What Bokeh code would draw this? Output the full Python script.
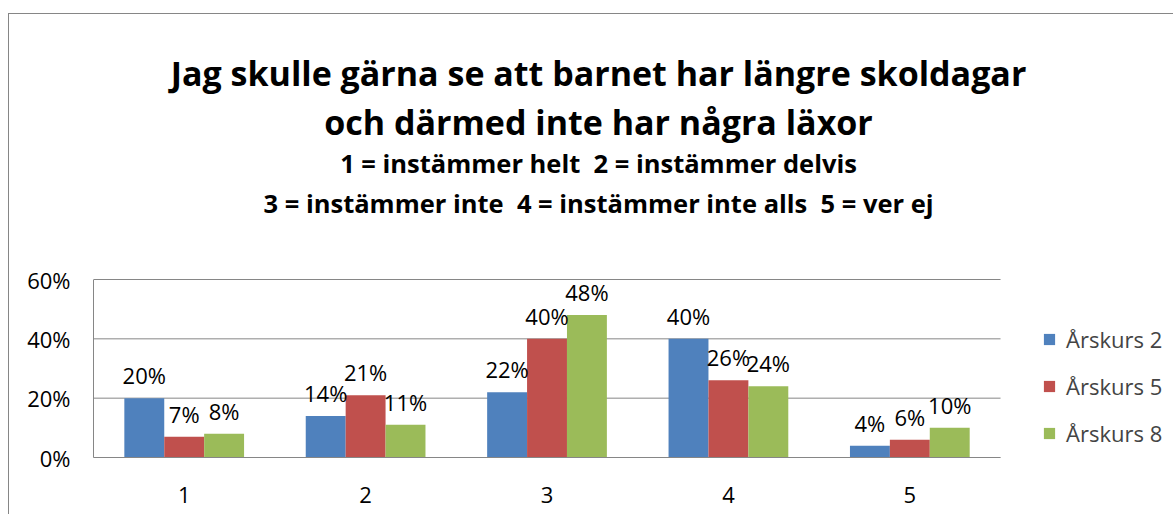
from bokeh.plotting import figure
from bokeh.models import (ColumnDataSource, Legend, LegendItem, Label, Range1d,
                          FixedTicker, NumeralTickFormatter, LabelSet)
from bokeh.transform import dodge
from bokeh.core.properties import value
from bokeh.embed import file_html
from bokeh.resources import INLINE

# ---- data ----
categories = ["1", "2", "3", "4", "5"]
series_names = ["Årskurs 2", "Årskurs 5", "Årskurs 8"]
arskurs2 = [0.20, 0.14, 0.22, 0.40, 0.04]
arskurs5 = [0.07, 0.21, 0.40, 0.26, 0.06]
arskurs8 = [0.08, 0.11, 0.48, 0.24, 0.10]
y_ticks = [0, 0.2, 0.4, 0.6]
title_lines = [
    "Jag skulle gärna se att barnet har längre skoldagar",
    "och därmed inte har några läxor",
    "1 = instämmer helt\u00a0 2 = instämmer delvis",
    "3 = instämmer inte\u00a0 4 = instämmer inte alls\u00a0 5 = ver ej",
]

colors = ["#4F81BD", "#C0504D", "#9BBB59"]
FONT = "Open Sans"
GRID = "#868686"

xpos = list(range(1, len(categories) + 1))
src = ColumnDataSource(dict(
    x=xpos,
    a2=arskurs2, a5=arskurs5, a8=arskurs8,
    l2=[f"{round(v*100)}%" for v in arskurs2],
    l5=[f"{round(v*100)}%" for v in arskurs5],
    l8=[f"{round(v*100)}%" for v in arskurs8],
))

# frame spans the whole canvas to the right and top so that the title
# and legend (drawn inside the frame) are not clipped
x_lo = 0.5
x_hi = x_lo + 5.959
y_top = 0.6 * 443 / 178

p = figure(width=1165, height=501, x_range=Range1d(x_lo, x_hi), y_range=Range1d(0, y_top),
           output_backend="svg", toolbar_location=None,
           min_border_left=84, min_border_right=0, min_border_top=0, min_border_bottom=58)
p.margin = (13, 0, 0, 8)
p.styles = {"border-left": "1px solid #868686", "border-top": "1px solid #868686"}
p.outline_line_color = None
p.xgrid.grid_line_color = None
p.ygrid.grid_line_color = None

# horizontal gridlines limited to the category area
gsrc = ColumnDataSource(dict(y=y_ticks, x0=[x_lo] * len(y_ticks),
                             x1=[len(categories) + 0.5] * len(y_ticks)))
p.segment(x0="x0", x1="x1", y0="y", y1="y", source=gsrc, line_color=GRID, line_width=1)

offsets = [-0.22, 0.0, 0.22]
fields = ["a2", "a5", "a8"]
lfields = ["l2", "l5", "l8"]
renderers = []
for off, f, lf, c in zip(offsets, fields, lfields, colors):
    r = p.vbar(x=dodge("x", off), top=f, width=0.22, source=src,
               fill_color=c, line_color=None)
    renderers.append(r)
    ls = LabelSet(x=dodge("x", off), y=f, text=lf, source=src,
                  text_align="center", text_baseline="alphabetic", y_offset=14,
                  text_font=value(FONT), text_font_size="22px", text_color="black")
    p.add_layout(ls)

p.yaxis.ticker = FixedTicker(ticks=y_ticks)
p.yaxis.bounds = (0, 0.6)
p.yaxis.formatter = NumeralTickFormatter(format="0%")
p.yaxis.major_tick_line_color = None
p.yaxis.minor_tick_line_color = None
p.yaxis.axis_line_color = GRID
p.yaxis.major_label_standoff = 17
p.yaxis.major_label_text_font = FONT
p.yaxis.major_label_text_font_size = "22px"
p.yaxis.major_label_text_color = "black"

p.xaxis.ticker = FixedTicker(ticks=xpos)
p.xaxis.major_label_overrides = {x: c for x, c in zip(xpos, categories)}
p.xaxis.bounds = (x_lo, len(categories) + 0.5)
p.xaxis.major_tick_line_color = None
p.xaxis.minor_tick_line_color = None
p.xaxis.axis_line_color = GRID
p.xaxis.major_label_standoff = 23
p.xaxis.major_label_text_font = FONT
p.xaxis.major_label_text_font_size = "22px"
p.xaxis.major_label_text_color = "black"

# title lines (positioned in data units of this frame)
title_x = 3.284
title_y = [1.2951, 1.1315, 0.9920, 0.8586]
title_sizes = ["34px", "34px", "25.5px", "25.5px"]
for txt, yy, fs in zip(title_lines, title_y, title_sizes):
    p.add_layout(Label(x=title_x, y=yy, text=txt,
                       text_align="center", text_baseline="alphabetic",
                       text_font=FONT, text_font_style="bold",
                       text_font_size=fs, text_color="black"))

legend = Legend(items=[LegendItem(label=n, renderers=[r]) for n, r in zip(series_names, renderers)],
                location=(949, 9), orientation="vertical",
                glyph_width=14, glyph_height=14, label_height=31, spacing=16,
                label_standoff=10, padding=0, margin=0,
                label_text_font=FONT, label_text_font_size="22px",
                border_line_color=None, background_fill_alpha=0)
p.add_layout(legend, "center")

open("out.html", "w").write(file_html(p, INLINE))
